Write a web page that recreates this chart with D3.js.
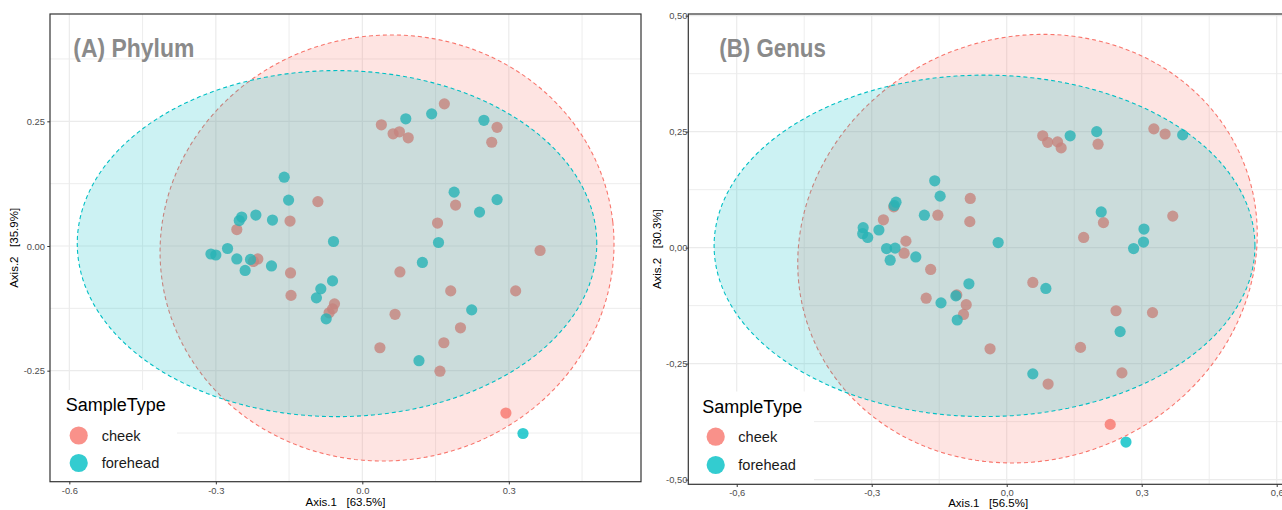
<!DOCTYPE html>
<html><head><meta charset="utf-8">
<script src="https://cdn.jsdelivr.net/npm/d3@7"></script>
<style>
html,body{margin:0;padding:0;background:#fff;}
svg{display:block;}
text{font-family:"Liberation Sans",Arial,sans-serif;}
</style></head><body>
<svg id="chart" width="1282" height="510"></svg>
<script>
// ---------------- data ----------------
const groups = ["cheek", "forehead"];
const groupColors = ["#F8766D", "#00BFC4"];
const legendTitle = "SampleType";

// (A) Phylum
const phylumCheekX = [-0.091,-0.148,-0.257,-0.214,-0.223,-0.147,-0.146,-0.057,-0.061,-0.068,0.168,0.039,0.063,0.076,0.094,0.276,0.265,0.191,0.154,0.364,0.077,0.181,0.314,0.067,0.201,0.167,0.036,0.159,0.294];
const phylumCheekY = [0.089,0.050,0.033,-0.026,-0.031,-0.054,-0.099,-0.116,-0.126,-0.134,0.285,0.243,0.225,0.229,0.217,0.238,0.208,0.082,0.046,-0.009,-0.052,-0.090,-0.090,-0.137,-0.164,-0.194,-0.204,-0.251,-0.335];
const phylumForeheadX = [-0.160,-0.151,-0.247,-0.252,-0.218,-0.184,-0.059,-0.310,-0.300,-0.276,-0.257,-0.229,-0.240,-0.186,-0.061,-0.085,-0.094,-0.074,0.089,0.142,0.249,0.188,0.276,0.240,0.156,0.123,0.224,0.116,0.329];
const phylumForeheadY = [0.138,0.092,0.058,0.051,0.062,0.052,0.009,-0.016,-0.018,-0.005,-0.026,-0.027,-0.049,-0.040,-0.070,-0.086,-0.104,-0.146,0.255,0.265,0.252,0.108,0.093,0.068,0.007,-0.033,-0.128,-0.230,-0.376];
// ellipse: centre x, centre y, semi-axis a, semi-axis b, rotation (deg)
const phylumEllipseCheek = [0.0506, -0.004, 0.4653, 0.4267, 6.4];
const phylumEllipseForehead = [-0.0518, 0.0048, 0.532, 0.347, 0];
const phylumXTicks = [-0.6, -0.3, 0.0, 0.3];
const phylumYTicks = [-0.25, 0.0, 0.25];
const phylumXMinor = [-0.45, -0.15, 0.15, 0.45];
const phylumYMinor = [-0.375, -0.125, 0.125, 0.375];
const phylumXTitle = "Axis.1   [63.5%]";
const phylumYTitle = "Axis.2   [35.9%]";
const phylumTitle = "(A) Phylum";

// (B) Genus
const genusCheekX = [-0.081,-0.251,-0.153,-0.274,-0.082,-0.224,-0.228,-0.169,-0.179,-0.111,-0.090,-0.096,-0.037,0.080,0.091,0.113,0.121,0.203,0.327,0.352,0.369,0.215,0.171,0.058,0.243,0.324,0.164,0.256,0.092,0.230];
const genusCheekY = [0.106,0.088,0.070,0.060,0.056,0.014,-0.012,-0.047,-0.109,-0.102,-0.123,-0.144,-0.218,0.241,0.227,0.228,0.215,0.223,0.256,0.245,0.068,0.054,0.022,-0.075,-0.136,-0.140,-0.215,-0.270,-0.294,-0.381];
const genusForeheadX = [-0.160,-0.148,-0.246,-0.250,-0.183,-0.319,-0.320,-0.309,-0.284,-0.019,-0.267,-0.248,-0.259,-0.202,-0.084,-0.113,-0.146,-0.110,0.141,0.200,0.391,0.210,0.305,0.304,0.282,0.087,0.252,0.058,0.265];
const genusForeheadY = [0.144,0.111,0.098,0.091,0.070,0.043,0.030,0.022,0.038,0.011,-0.002,-0.001,-0.027,-0.020,-0.078,-0.104,-0.119,-0.156,0.241,0.250,0.243,0.077,0.040,0.012,-0.002,-0.088,-0.181,-0.272,-0.419];
const genusEllipseCheek = [0.0462, -0.0022, 0.5153, 0.4567, 16.9];
const genusEllipseForehead = [-0.0493, 0.0039, 0.601, 0.368, 0];
const genusXTicks = [-0.6, -0.3, 0.0, 0.3, 0.6];
const genusYTicks = [-0.5, -0.25, 0.0, 0.25, 0.5];
const genusXMinor = [-0.45, -0.15, 0.15, 0.45];
const genusYMinor = [-0.375, -0.125, 0.125, 0.375];
const genusXTitle = "Axis.1   [56.5%]";
const genusYTitle = "Axis.2   [30.3%]";
const genusTitle = "(B) Genus";

// ---------------- drawing ----------------
const svg = d3.select("#chart");
const dotLocale = d3.formatLocale({decimal: ".", thousands: ",", grouping: [3], currency: ["", ""], minus: "-"});
const commaLocale = d3.formatLocale({decimal: ",", thousands: ".", grouping: [3], currency: ["", ""], minus: "-"});
const color = d3.scaleOrdinal().domain(groups).range(groupColors);

function ellipsePoints(p) {
  const [cx, cy, a, b, deg] = p;
  const th = deg * Math.PI / 180;
  return d3.range(0, 2 * Math.PI, Math.PI / 90).map(t => [
    cx + a * Math.cos(t) * Math.cos(th) - b * Math.sin(t) * Math.sin(th),
    cy + a * Math.cos(t) * Math.sin(th) + b * Math.sin(t) * Math.cos(th)
  ]);
}

function drawPanel(cfg) {
  const P = cfg.panel;
  const x = d3.scaleLinear().domain(cfg.xDomain).range([P.x0, P.x1]);
  const y = d3.scaleLinear().domain(cfg.yDomain).range([P.y1, P.y0]);
  const g = svg.append("g");
  const clipId = "clip-" + cfg.id;
  g.append("clipPath").attr("id", clipId).append("rect")
    .attr("x", P.x0).attr("y", P.y0).attr("width", P.x1 - P.x0).attr("height", P.y1 - P.y0);
  const inner = g.append("g").attr("clip-path", `url(#${clipId})`);

  // grid
  inner.selectAll(".gxm").data(cfg.xMinor).join("line")
    .attr("x1", d => x(d)).attr("x2", d => x(d)).attr("y1", P.y0).attr("y2", P.y1)
    .attr("stroke", "#EBEBEB").attr("stroke-width", 0.9);
  inner.selectAll(".gym").data(cfg.yMinor).join("line")
    .attr("y1", d => y(d)).attr("y2", d => y(d)).attr("x1", P.x0).attr("x2", P.x1)
    .attr("stroke", "#EBEBEB").attr("stroke-width", 0.9);
  inner.selectAll(".gx").data(cfg.xTicks).join("line")
    .attr("x1", d => x(d)).attr("x2", d => x(d)).attr("y1", P.y0).attr("y2", P.y1)
    .attr("stroke", "#EBEBEB").attr("stroke-width", 1.2);
  inner.selectAll(".gy").data(cfg.yTicks).join("line")
    .attr("y1", d => y(d)).attr("y2", d => y(d)).attr("x1", P.x0).attr("x2", P.x1)
    .attr("stroke", "#EBEBEB").attr("stroke-width", 1.2);

  // points (drawn under ellipses)
  cfg.series.forEach(s => {
    inner.append("g").selectAll("circle").data(s.xs.map((v, i) => [v, s.ys[i]])).join("circle")
      .attr("cx", d => x(d[0])).attr("cy", d => y(d[1])).attr("r", 5.6)
      .attr("fill", color(s.group)).attr("fill-opacity", 0.8);
  });

  // ellipses
  const line = d3.line().x(d => x(d[0])).y(d => y(d[1])).curve(d3.curveLinearClosed);
  cfg.ellipses.forEach(e => {
    inner.append("path").attr("d", line(ellipsePoints(e.p)))
      .attr("fill", color(e.group)).attr("fill-opacity", 0.2)
      .attr("stroke", color(e.group)).attr("stroke-width", 1.1)
      .attr("stroke-dasharray", "4 3");
  });

  // legend box
  g.append("rect").attr("x", P.x0 + 0.5).attr("y", cfg.legend.top)
    .attr("width", cfg.legend.right - P.x0 - 0.5).attr("height", P.y1 - cfg.legend.top - 0.6)
    .attr("fill", "#fff");
  g.append("text").attr("x", cfg.legend.titleX).attr("y", cfg.legend.titleY)
    .attr("font-size", 18).attr("fill", "#000").text(legendTitle);
  groups.forEach((grp, i) => {
    const cy = cfg.legend.keyY[i];
    g.append("circle").attr("cx", cfg.legend.keyX).attr("cy", cy).attr("r", 9.1)
      .attr("fill", color(grp)).attr("fill-opacity", 0.8);
    g.append("text").attr("x", cfg.legend.labelX).attr("y", cy + 5.2)
      .attr("font-size", 14.6).attr("fill", "#1a1a1a").text(grp);
  });

  // panel border
  g.append("rect").attr("x", P.x0).attr("y", P.y0).attr("width", P.x1 - P.x0).attr("height", P.y1 - P.y0)
    .attr("fill", "none").attr("stroke", "#333").attr("stroke-width", 1.2);

  // axes
  const xAxis = d3.axisBottom(x).tickValues(cfg.xTicks).tickFormat(cfg.fmtX).tickSize(2.7).tickPadding(2.5);
  const yAxis = d3.axisLeft(y).tickValues(cfg.yTicks).tickFormat(cfg.fmtY).tickSize(2.7).tickPadding(cfg.yPad);
  const gx = g.append("g").attr("transform", `translate(0,${P.y1})`).call(xAxis);
  const gy = g.append("g").attr("transform", `translate(${P.x0},0)`).call(yAxis);
  [gx, gy].forEach(ax => {
    ax.select(".domain").remove();
    ax.selectAll(".tick line").attr("stroke", "#333").attr("stroke-width", 1);
    ax.selectAll(".tick text").attr("fill", "#4D4D4D").attr("font-size", 9.4)
      .attr("font-family", '"Liberation Sans", Arial, sans-serif');
  });

  // axis titles
  g.append("text").attr("x", (P.x0 + P.x1) / 2).attr("y", cfg.xTitleY)
    .attr("text-anchor", "middle").attr("font-size", 11.5).style("white-space", "pre")
    .attr("fill", "#000").text(cfg.xTitle);
  g.append("text").attr("transform", `translate(${cfg.yTitleX},${(P.y0 + P.y1) / 2}) rotate(-90)`)
    .attr("text-anchor", "middle").attr("font-size", 11.5).style("white-space", "pre")
    .attr("fill", "#000").text(cfg.yTitle);

  // panel title
  g.append("text").attr("x", cfg.titleX).attr("y", 57)
    .attr("font-family", "Lato, 'Open Sans', sans-serif").attr("font-weight", 700)
    .attr("font-size", 25).attr("fill", "#8A8A8A")
    .attr("textLength", cfg.titleLen).attr("lengthAdjust", "spacingAndGlyphs")
    .text(cfg.title);
}

drawPanel({
  id: "a", panel: {x0: 50, x1: 641, y0: 14, y1: 481.7},
  xDomain: [-0.6396, 0.5707], yDomain: [-0.4726, 0.4652],
  xTicks: phylumXTicks, yTicks: phylumYTicks, xMinor: phylumXMinor, yMinor: phylumYMinor,
  fmtX: dotLocale.format(".1f"), fmtY: dotLocale.format(".2f"), yPad: 2.3,
  series: [{group: "cheek", xs: phylumCheekX, ys: phylumCheekY},
           {group: "forehead", xs: phylumForeheadX, ys: phylumForeheadY}],
  ellipses: [{group: "cheek", p: phylumEllipseCheek}, {group: "forehead", p: phylumEllipseForehead}],
  legend: {top: 390, right: 177, titleX: 65.7, titleY: 410.5, keyX: 78.7, keyY: [435.5, 463], labelX: 101.7},
  xTitle: phylumXTitle, yTitle: phylumYTitle, xTitleY: 506, yTitleX: 18.3,
  title: phylumTitle, titleX: 73.3, titleLen: 121
});

drawPanel({
  id: "b", panel: {x0: 688.3, x1: 1288, y0: 14, y1: 484.3},
  xDomain: [-0.7076, 0.6251], yDomain: [-0.5101, 0.5036],
  xTicks: genusXTicks, yTicks: genusYTicks, xMinor: genusXMinor, yMinor: genusYMinor,
  fmtX: commaLocale.format(".1f"), fmtY: commaLocale.format(".2f"), yPad: -1.8,
  series: [{group: "cheek", xs: genusCheekX, ys: genusCheekY},
           {group: "forehead", xs: genusForeheadX, ys: genusForeheadY}],
  ellipses: [{group: "cheek", p: genusEllipseCheek}, {group: "forehead", p: genusEllipseForehead}],
  legend: {top: 391.5, right: 814, titleX: 702.3, titleY: 412.5, keyX: 715.7, keyY: [436.7, 465], labelX: 738.3},
  xTitle: genusXTitle, yTitle: genusYTitle, xTitleY: 507, yTitleX: 661,
  title: genusTitle, titleX: 719.3, titleLen: 106.5
});
</script>
</body></html>
